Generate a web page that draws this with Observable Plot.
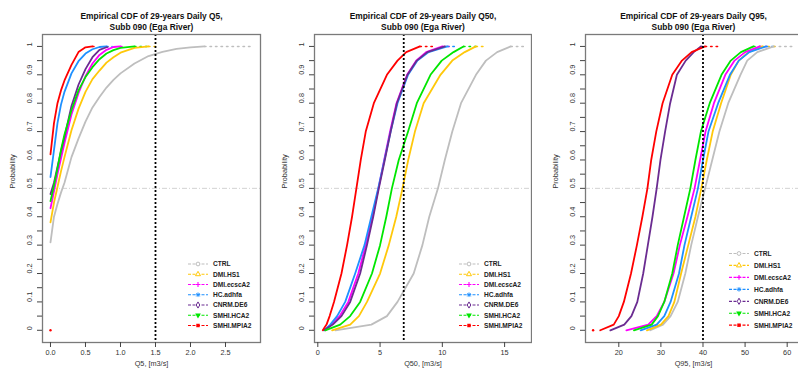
<!DOCTYPE html>
<html><head><meta charset="utf-8">
<script src="https://cdn.jsdelivr.net/npm/d3@7"></script>
<script src="https://cdn.jsdelivr.net/npm/@observablehq/plot@0.6"></script>
<style>
body{margin:0;background:#fff;}
#wrap{position:relative;width:798px;height:379px;overflow:hidden;background:#fff;}
#wrap svg{position:absolute;top:0;}
</style></head><body><div id="wrap"></div>
<script>
// ---- series ----
const series = ["CTRL","DMI.HS1","DMI.ecscA2","HC.adhfa","CNRM.DE6","SMHI.HCA2","SMHI.MPIA2"];
const colors = ["#BEBEBE","#FFC80A","#FF00FF","#1E90FF","#6B2C91","#00E600","#FF0000"];
const symbols = ["circle","triangle","plus","asterisk","diamond","triangleDown","square"];

// ---- Panel 1: Q5, CDF value at fixed Q5 levels ----
const q5X = [0, 0.05, 0.1, 0.15, 0.2, 0.3, 0.4, 0.5, 0.6, 0.7, 0.8, 0.9, 1.0, 1.2, 1.4, 1.6, 1.8, 2.0, 2.2];
const q5_CTRL   = [0.31,0.40,0.445,0.485,0.52,0.61,0.675,0.735,0.785,0.822,0.855,0.882,0.905,0.94,0.966,0.981,0.991,0.997,1];
const q5_HS1    = [0.38,0.45,0.505,0.56,0.61,0.705,0.78,0.84,0.885,0.915,0.943,0.962,0.978,0.995,1,null,null,null,null];
const q5_ecscA2 = [0.43,0.49,0.55,0.605,0.66,0.76,0.835,0.895,0.94,0.97,0.988,0.998,1,null,null,null,null,null,null];
const q5_adhfa  = [0.54,0.635,0.73,0.795,0.84,0.905,0.948,0.975,0.99,0.998,1,null,null,null,null,null,null,null,null];
const q5_DE6    = [0.48,0.52,0.575,0.63,0.68,0.79,0.865,0.92,0.962,0.988,0.997,null,null,null,null,null,null,null,null];
const q5_HCA2   = [0.455,0.51,0.57,0.635,0.69,0.775,0.845,0.892,0.927,0.955,0.975,0.987,0.995,1,null,null,null,null,null];
const q5_MPIA2  = [0.62,0.73,0.80,0.845,0.88,0.935,0.98,0.997,1,null,null,null,null,null,null,null,null,null,null];
const q5Max = [2.87, 1.55, 1.05, 0.88, 0.85, 1.38, 0.65];
const q5Isolated = [{series:"SMHI.MPIA2", x:0, p:0}];

// ---- Panels 2 & 3: quantiles at fixed probabilities ----
const probs = [0, 0.02, 0.05, 0.1, 0.2, 0.3, 0.4, 0.5, 0.6, 0.7, 0.8, 0.9, 0.95, 0.98, 1];
const q50_CTRL   = [1.42,4.3,5.55,6.4,7.7,8.4,8.95,9.65,10.2,10.8,11.5,12.7,13.5,14.4,15.5];
const q50_HS1    = [1.15,2.6,3.3,3.95,5.0,5.7,6.3,6.8,7.26,7.8,8.5,9.85,10.8,11.8,12.7];
const q50_ecscA2 = [0.6,1.1,1.75,2.45,3.25,3.85,4.4,4.87,5.33,5.8,6.32,7.17,7.9,8.7,10.0];
const q50_adhfa  = [0.5,1.0,1.55,2.2,3.0,3.75,4.3,4.85,5.35,5.85,6.4,7.25,8.0,8.9,10.4];
const q50_DE6    = [0.5,1.2,1.9,2.6,3.4,3.95,4.45,4.9,5.38,5.85,6.35,7.2,7.95,8.8,10.2];
const q50_HCA2   = [0.6,1.8,2.6,3.4,4.35,5.0,5.5,5.95,6.5,7.25,7.95,9.05,9.95,10.9,11.7];
const q50_MPIA2  = [0.4,0.7,0.95,1.3,1.9,2.35,2.75,3.1,3.45,3.85,4.5,5.55,6.4,7.1,8.2];
const q50Max = [16.6, 13.3, 10.6, 11.1, 10.5, 12.7, 9.2];

const q95_CTRL   = [27.5,30.5,32.3,34.0,35.8,37.2,38.8,40.5,42.2,43.9,46.0,48.9,50.5,52.9,56.8];
const q95_HS1    = [26.7,30.0,31.8,33.2,34.8,36.5,38.2,39.6,40.9,42.3,44.3,46.6,48.5,50.8,54.1];
const q95_ecscA2 = [21.8,27.0,29.0,30.8,33.0,34.5,36.3,38.0,39.3,40.6,42.6,45.3,47.5,50.0,53.5];
const q95_adhfa  = [25.2,29.0,30.8,32.3,34.3,35.6,37.2,38.8,40.0,41.3,43.6,46.4,48.5,51.0,55.0];
const q95_DE6    = [18.0,21.3,23.0,24.4,25.8,26.9,28.0,29.0,29.9,31.0,32.2,33.8,35.9,37.8,39.5];
const q95_HCA2   = [23.6,27.8,29.3,30.8,32.7,34.0,35.5,37.0,38.2,39.5,41.6,44.4,46.6,49.0,52.0];
const q95_MPIA2  = [15.6,18.8,20.0,21.2,22.9,24.3,25.6,26.8,27.7,28.9,30.4,32.7,35.0,37.3,40.5];
const q95Max = [61.6, 57.5, 55.5, 57.5, 40.5, 54.0, 44.3];
const q95Isolated = [{series:"SMHI.MPIA2", x:13.9, p:0}];

const yMinorTicks = d3.range(0, 21).map(i => i / 20);
const yMajorTicks = d3.range(0, 11).map(i => i / 10);

// ---- build tables ----
function fromXGrid(xs, lists) {
  const rows = [];
  lists.forEach((ps, i) => ps.forEach((p, j) => { if (p != null) rows.push({series: series[i], x: xs[j], p}); }));
  return rows;
}
function fromProbGrid(ps, lists) {
  const rows = [];
  lists.forEach((xs, i) => xs.forEach((x, j) => rows.push({series: series[i], x, p: ps[j]})));
  return rows;
}
function tails(rows, maxes) {
  const out = [];
  series.forEach((s, i) => {
    const r = rows.filter(d => d.series === s);
    const last = r[r.length - 1];
    out.push({series: s, x: last.x, p: last.p}, {series: s, x: maxes[i], p: 1});
  });
  return out;
}

const panels = [
  {left: 0, width: 266, ml: 42, mr: 6, xDomain: [-0.114, 3.0], xTicks: [0, 0.5, 1, 1.5, 2, 2.5], fmt: d3.format(".1f"),
   vline: 1.5, xLabel: "Q5, [m3/s]", title: ["Empirical CDF of 29-years Daily Q5,", "Subb 090 (Ega River)"],
   rows: fromXGrid(q5X, [q5_CTRL, q5_HS1, q5_ecscA2, q5_adhfa, q5_DE6, q5_HCA2, q5_MPIA2]), maxes: q5Max, iso: q5Isolated,
   legY0: 264, legStep: 10.25},
  {left: 266, width: 266, ml: 48, mr: 1, xDomain: [-0.265, 17.16], xTicks: [0, 5, 10, 15], fmt: d3.format("d"),
   vline: 6.9, xLabel: "Q50, [m3/s]", title: ["Empirical CDF of 29-years Daily Q50,", "Subb 090 (Ega River)"],
   rows: fromProbGrid(probs, [q50_CTRL, q50_HS1, q50_ecscA2, q50_adhfa, q50_DE6, q50_HCA2, q50_MPIA2]), maxes: q50Max, iso: [],
   legY0: 264, legStep: 10.25},
  {left: 532, width: 271, ml: 53, mr: 2, xDomain: [12.09, 63.4], xTicks: [20, 30, 40, 50, 60], fmt: d3.format("d"),
   vline: 40, xLabel: "Q95, [m3/s]", title: ["Empirical CDF of 29-years Daily Q95,", "Subb 090 (Ega River)"],
   rows: fromProbGrid(probs, [q95_CTRL, q95_HS1, q95_ecscA2, q95_adhfa, q95_DE6, q95_HCA2, q95_MPIA2]), maxes: q95Max, iso: q95Isolated,
   legY0: 253.5, legStep: 11.95}
];

const font = "'Liberation Sans', Arial, Helvetica, sans-serif";
const wrap = document.getElementById("wrap");

panels.forEach(cfg => {
  const svg = Plot.plot({
    width: cfg.width, height: 379,
    marginTop: 34, marginBottom: 37, marginLeft: cfg.ml, marginRight: cfg.mr,
    style: {fontFamily: font, fontSize: "7.3px", background: "white", color: "#222", overflow: "visible"},
    x: {domain: cfg.xDomain, axis: null},
    y: {domain: [-0.043, 1.042], axis: null},
    color: {domain: series, range: colors},
    marks: [
      Plot.ruleY([0.5], {stroke: "#d2d2d2", strokeWidth: 1, strokeDasharray: "5,2,1,2"}),
      Plot.line(tails(cfg.rows, cfg.maxes), {x: "x", y: "p", z: "series", stroke: "series", strokeWidth: 1.5, strokeDasharray: "1.5,4"}),
      Plot.line(cfg.rows, {x: "x", y: "p", z: "series", stroke: "series", strokeWidth: 1.8, strokeLinejoin: "round"}),
      Plot.dot(cfg.iso, {x: "x", y: "p", fill: "series", r: 1.2}),
      Plot.ruleX([cfg.vline], {stroke: "black", strokeWidth: 1.8, strokeDasharray: "2,2"}),
      Plot.frame({stroke: "#7a7a7a", strokeWidth: 1.3}),
      Plot.axisX({ticks: cfg.xTicks, tickSize: 5, tickPadding: 2, tickFormat: cfg.fmt, stroke: "#444", fill: "#333", fontSize: 7.3, label: null}),
      Plot.axisY({ticks: yMinorTicks, tickSize: 5, tickFormat: () => "", stroke: "#444", label: null}),
      Plot.text(yMajorTicks, {y: d => d, text: d => (d === 0 ? "0" : d === 1 ? "1" : d.toFixed(1)), frameAnchor: "left", dx: -13, rotate: -90, fill: "#333", fontSize: 7.3}),
      Plot.text(["Probability"], {frameAnchor: "left", dx: -30, rotate: -90, fill: "#333", fontSize: 7.3}),
      Plot.text([cfg.xLabel], {frameAnchor: "bottom", dy: 23, fill: "#333", fontSize: 7.3}),
      Plot.text([cfg.title[0]], {frameAnchor: "top", dy: -21.3, fontWeight: "bold", fill: "#111", fontSize: 8.4}),
      Plot.text([cfg.title[1]], {frameAnchor: "top", dy: -10.8, fontWeight: "bold", fill: "#111", fontSize: 8.4})
    ]
  });
  svg.style.left = cfg.left + "px";
  wrap.appendChild(svg);

  // legend (bottom-right, inside box)
  const boxRight = cfg.width - cfg.mr;
  const g = d3.select(svg).append("g").attr("font-family", font).attr("text-anchor", "start");
  series.forEach((s, i) => {
    const y = cfg.legY0 + i * cfg.legStep;
    const c = colors[i];
    const sx = boxRight - 62;
    g.append("line").attr("x1", boxRight - 72).attr("x2", boxRight - 52).attr("y1", y).attr("y2", y)
      .attr("stroke", c).attr("stroke-width", 1.2).attr("stroke-dasharray", "3,1.5");
    const sym = symbols[i];
    const sg = g.append("g").attr("transform", `translate(${sx},${y})`);
    if (sym === "circle") sg.append("circle").attr("r", 1.9).attr("fill", "white").attr("stroke", c).attr("stroke-width", 1);
    else if (sym === "triangle") sg.append("path").attr("d", d3.symbol(d3.symbolTriangle, 11)()).attr("fill", "white").attr("stroke", c).attr("stroke-width", 1);
    else if (sym === "plus") sg.append("path").attr("d", "M-2.4,0H2.4M0,-2.4V2.4").attr("stroke", c).attr("stroke-width", 1.1);
    else if (sym === "asterisk") sg.append("path").attr("d", "M-2.3,0H2.3M0,-2.3V2.3M-1.7,-1.7L1.7,1.7M-1.7,1.7L1.7,-1.7").attr("stroke", c).attr("stroke-width", 0.9);
    else if (sym === "diamond") sg.append("path").attr("d", d3.symbol(d3.symbolDiamond, 11)()).attr("fill", "white").attr("stroke", c).attr("stroke-width", 1);
    else if (sym === "triangleDown") sg.append("path").attr("d", d3.symbol(d3.symbolTriangle, 14)()).attr("transform", "rotate(180)").attr("fill", c);
    else if (sym === "square") sg.append("path").attr("d", d3.symbol(d3.symbolSquare, 12)()).attr("fill", c);
    g.append("text").attr("x", boxRight - 47).attr("y", y).attr("dy", "0.35em").attr("text-anchor", "start")
      .attr("font-size", 6.6).attr("font-weight", "bold").attr("fill", "#222").text(s);
  });
});
</script></body></html>
